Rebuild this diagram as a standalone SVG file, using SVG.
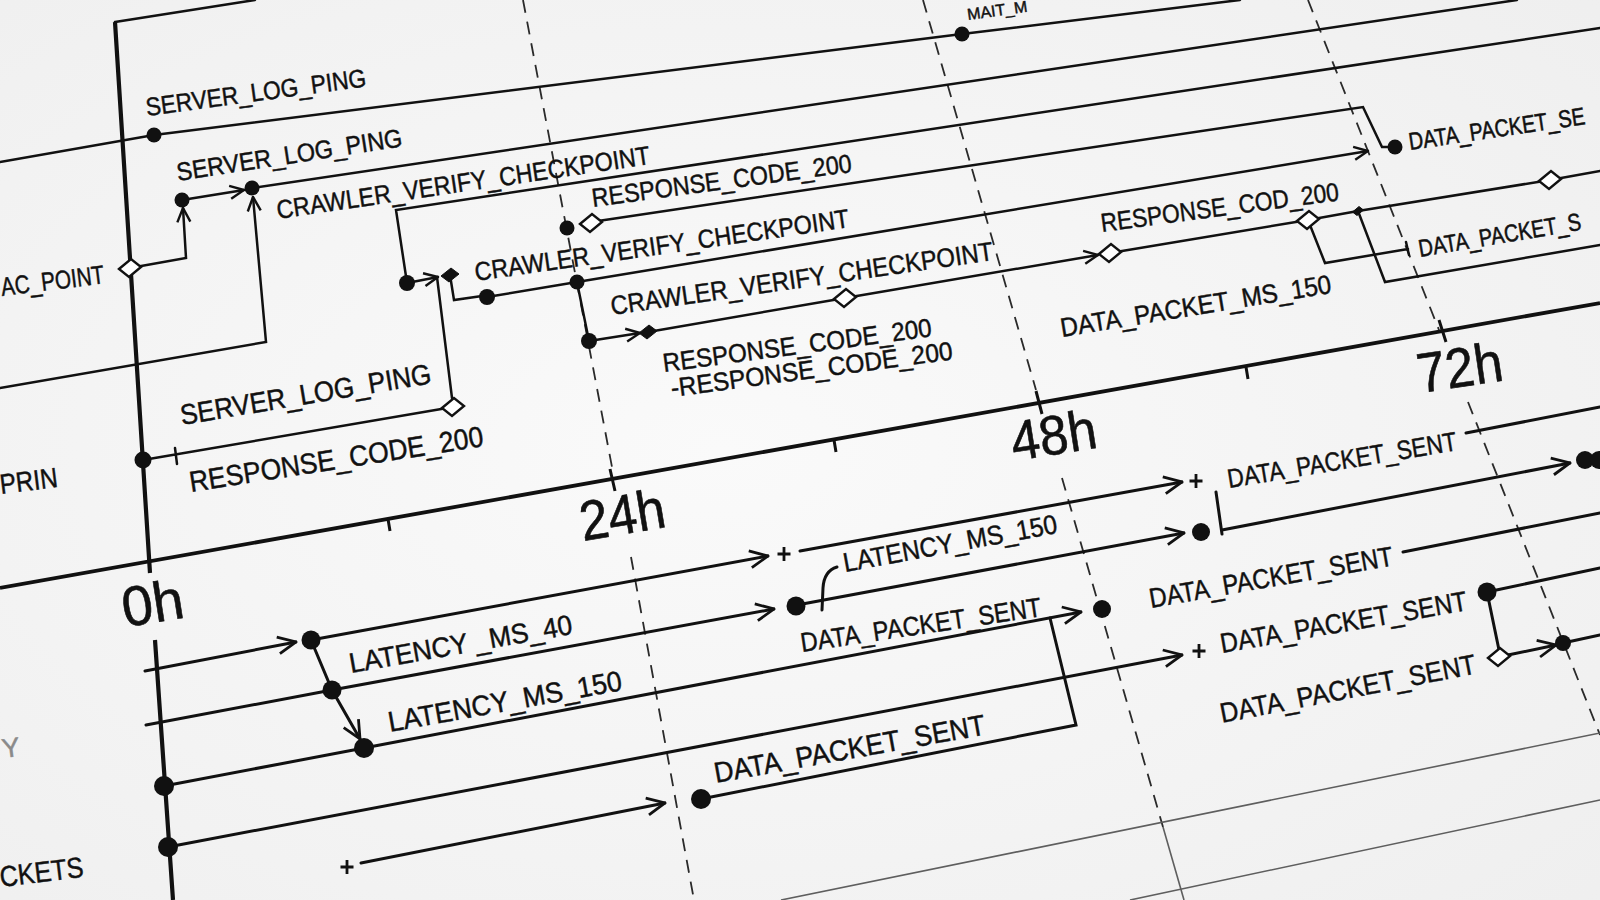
<svg xmlns="http://www.w3.org/2000/svg" xmlns:xlink="http://www.w3.org/1999/xlink" width="1600" height="900" viewBox="0 0 1600 900">
<defs>
<radialGradient id="bg" cx="0.45" cy="0.5" r="0.8">
<stop offset="0" stop-color="#fafafa"/>
<stop offset="1" stop-color="#eeeeee"/>
</radialGradient>
<marker id="arr" viewBox="0 0 16 16" refX="15" refY="8" markerWidth="16" markerHeight="16" markerUnits="userSpaceOnUse" orient="auto">
<path d="M1,1.5 L15,8 L1,14.5" fill="none" stroke="#111" stroke-width="2.4"/>
</marker>
<marker id="arrL" viewBox="0 0 20 20" refX="19" refY="10" markerWidth="20" markerHeight="20" markerUnits="userSpaceOnUse" orient="auto">
<path d="M1,1.5 L19,10 L1,18.5" fill="none" stroke="#111" stroke-width="2.8"/>
</marker>
<path id="dia" d="M-11,1 L1,-9 L11,-1 L-1,9Z"/>
<path id="diaS" d="M-9,1 L1,-7 L9,-1 L-1,7Z"/>
<path id="diaXS" d="M-5.5,1 L1,-4.5 L5.5,-1 L-1,4.5Z"/>
<path id="plus" d="M-6.5,0 H6.5 M0,-7 V7"/>
</defs>
<style>
.ln{fill:none;stroke:#111;stroke-width:2.5;stroke-linecap:round;stroke-linejoin:miter}
.lb{stroke-width:3}
.thick{fill:none;stroke:#111;stroke-width:4.2}
.axis{fill:none;stroke:#111;stroke-width:3.8}
.tk{fill:none;stroke:#111;stroke-width:3}
.dash{fill:none;stroke:#2a2a2a;stroke-width:1.8;stroke-dasharray:13 9}
.thin{fill:none;stroke:#5e5e5e;stroke-width:1.6}
.dot{fill:#111}
.od{fill:#fff;stroke:#111;stroke-width:2.4}
.fd{fill:#111;stroke:#111;stroke-width:1}
.pl{fill:none;stroke:#111;stroke-width:2.8}
.t{font-family:"Liberation Sans",Arial,sans-serif;fill:#111;stroke:#111;stroke-width:0.45}
.big{font-size:56px;stroke-width:0.6}
.gray{fill:#8a8a8a;stroke:#8a8a8a}
</style>
<rect width="1600" height="900" fill="url(#bg)"/>

<g id="grid">
<path class="dash" d="M523,0 L612,467 M631,557 L694,900"/>
<path class="dash" d="M923,0 L1036,390 M1062,478 L1163,827"/>
<path class="thin" d="M1163,827 L1184,900"/>
<path class="dash" d="M1308,0 L1439,330 M1468,402 L1600,735"/>
<path class="thin" d="M781,900 L1600,733 M1130,900 L1600,800"/>
</g>

<g id="axis">
<path class="axis" d="M0,588 L1600,303"/>
<path class="tk" d="M610,469 L615,491 M1036,391 L1042,414 M1439,320 L1446,342 M388,519 L390,531 M834,440 L836,452 M1246,367 L1248,379"/>
<path class="thick" d="M115,22 L150,573 M155,640 L173,900"/>
<path class="ln" d="M115,22 L255,0"/>
<text class="t big" x="125" y="627" transform="rotate(-9 125 627)" textLength="62" lengthAdjust="spacingAndGlyphs">0h</text>
<text class="t big" x="583" y="541" transform="rotate(-9.5 583 541)" textLength="86" lengthAdjust="spacingAndGlyphs">24h</text>
<text class="t big" x="1014" y="461" transform="rotate(-9 1014 461)" textLength="86" lengthAdjust="spacingAndGlyphs">48h</text>
<text class="t big" x="1420" y="393" transform="rotate(-8.5 1420 393)" textLength="86" lengthAdjust="spacingAndGlyphs">72h</text>
</g>

<g id="connectors">
<path class="ln" d="M0,162 L154,135 L962,34 L1240,0"/>
<path class="ln" d="M252,188 L1517,0"/>
<path class="ln" d="M130,268 L186,258 L183,208" marker-end="url(#arr)"/>
<path class="ln" d="M182,200 L244,190" marker-end="url(#arr)"/>
<path class="ln" d="M0,388 L266,342 L253,197" marker-end="url(#arr)"/>
<path class="ln" d="M407,283 L396,210 L1600,28"/>
<path class="ln" d="M407,283 L438,277" marker-end="url(#arr)"/>
<path class="ln" d="M437,277 L452,398"/>
<path class="ln" d="M450,275 L454,300 L482,296"/>
<path class="ln" d="M598,221 L1363,107 L1382,147 L1390,147"/>
<path class="ln" d="M487,297 L577,282 L1368,151" marker-end="url(#arr)"/>
<path class="ln" d="M577,282 L589,341"/>
<path class="ln" d="M589,341 L640,333" marker-end="url(#arr)"/>
<path class="ln" d="M648,332 L845,298 L1098,255" marker-end="url(#arr)"/>
<path class="ln" d="M1110,253 L1308,220 L1358,211 L1550,180 L1600,171"/>
<path class="ln" d="M1308,220 L1325,263 L1408,249 M1406,242 L1409,255"/>
<path class="ln" d="M1358,211 L1385,282 L1600,245"/>
<path class="ln" d="M453,407 L143,460 M175,448 L177,464"/>

<path class="ln lb" d="M145,671 L296,642" marker-end="url(#arrL)"/>
<path class="ln lb" d="M311,640 L332,690 L360,739" marker-end="url(#arrL)"/>
<path class="ln lb" d="M146,725 L332,690"/>
<path class="ln lb" d="M311,640 L768,556" marker-end="url(#arrL)"/>
<path class="ln lb" d="M332,690 L774,609" marker-end="url(#arrL)"/>
<path class="ln lb" d="M164,786 L364,748 L1081,612" marker-end="url(#arrL)"/>
<path class="ln lb" d="M1050,618 L1076,725 L701,799"/>
<path class="ln lb" d="M168,847 L1182,655" marker-end="url(#arrL)"/>
<path class="ln lb" d="M361,863 L665,803" marker-end="url(#arrL)"/>
<path class="ln lb" d="M800,551 L1182,482" marker-end="url(#arrL)"/>
<path class="ln lb" d="M797,605 L1184,533" marker-end="url(#arrL)"/>
<path class="ln lb" d="M822,610 L823,588 Q824,571 837,567"/>
<path class="ln lb" d="M1466,433 L1600,407"/>
<path class="ln lb" d="M1222,530 L1570,463" marker-end="url(#arrL)"/>
<path class="ln lb" d="M1216,492 L1222,534"/>
<path class="ln lb" d="M1403,552 L1600,513"/>
<path class="ln lb" d="M1487,592 L1600,568 M1487,592 L1499,650"/>
<path class="ln lb" d="M1508,655 L1556,645" marker-end="url(#arrL)"/>
<path class="ln lb" d="M1563,643 L1600,635"/>
</g>

<g id="n-server-log-ping-1">
<circle class="dot" cx="154" cy="135" r="7.5"/>
<text class="t" x="147" y="116" font-size="25.5" transform="rotate(-7.7 147 116)" textLength="222" lengthAdjust="spacingAndGlyphs">SERVER_LOG_PING</text>
</g>
<g id="n-mait">
<circle class="dot" cx="962" cy="34" r="7.5"/>
<text class="t" x="968" y="20" font-size="16" transform="rotate(-8 968 20)">MAIT_M</text>
</g>
<g id="n-server-log-ping-2">
<circle class="dot" cx="252" cy="188" r="7.5"/>
<text class="t" x="178" y="181" font-size="25.5" transform="rotate(-8.8 178 181)" textLength="228" lengthAdjust="spacingAndGlyphs">SERVER_LOG_PING</text>
</g>
<g id="n-ac-point">
<circle class="dot" cx="182" cy="200" r="7.5"/>
<use xlink:href="#dia" href="#dia" x="130" y="268" class="od"/>
<text class="t" x="2" y="296" font-size="26" transform="rotate(-7 2 296)" textLength="104" lengthAdjust="spacingAndGlyphs">AC_POINT</text>
</g>
<g id="n-crawler-1">
<circle class="dot" cx="407" cy="283" r="8"/>
<use xlink:href="#diaS" href="#diaS" x="450" y="275" class="fd"/>
<text class="t" x="278" y="219" font-size="26" transform="rotate(-8.4 278 219)" textLength="377" lengthAdjust="spacingAndGlyphs">CRAWLER_VERIFY_CHECKPOINT</text>
</g>
<g id="n-response-1">
<circle class="dot" cx="567" cy="228" r="7.5"/>
<use xlink:href="#dia" href="#dia" x="591" y="223" class="od"/>
<text class="t" x="593" y="207" font-size="26" transform="rotate(-7.7 593 207)" textLength="262" lengthAdjust="spacingAndGlyphs">RESPONSE_CODE_200</text>
</g>
<g id="n-crawler-2">
<circle class="dot" cx="487" cy="297" r="8"/>
<circle class="dot" cx="577" cy="282" r="7.5"/>
<text class="t" x="476" y="281" font-size="26" transform="rotate(-8.2 476 281)" textLength="378" lengthAdjust="spacingAndGlyphs">CRAWLER_VERIFY_CHECKPOINT</text>
</g>
<g id="n-crawler-3">
<circle class="dot" cx="589" cy="341" r="8"/>
<use xlink:href="#diaS" href="#diaS" x="648" y="332" class="fd"/>
<use xlink:href="#dia" href="#dia" x="845" y="298" class="od"/>
<text class="t" x="612" y="315" font-size="26.5" transform="rotate(-8.2 612 315)" textLength="386" lengthAdjust="spacingAndGlyphs">CRAWLER_VERIFY_CHECKPOINT</text>
</g>
<g id="n-response-pair">
<text class="t" x="664" y="372" font-size="26" transform="rotate(-7.6 664 372)" textLength="271" lengthAdjust="spacingAndGlyphs">RESPONSE_CODE_200</text>
<text class="t" x="672" y="397" font-size="26" transform="rotate(-7.6 672 397)" textLength="284" lengthAdjust="spacingAndGlyphs">-RESPONSE_CODE_200</text>
</g>
<g id="n-response-cod">
<use xlink:href="#dia" href="#dia" x="1110" y="253" class="od"/>
<use xlink:href="#dia" href="#dia" x="1308" y="220" class="od"/>
<use xlink:href="#diaXS" href="#diaXS" x="1358" y="211" class="fd"/>
<use xlink:href="#dia" href="#dia" x="1550" y="180" class="od"/>
<text class="t" x="1102" y="232" font-size="26" transform="rotate(-7.6 1102 232)" textLength="240" lengthAdjust="spacingAndGlyphs">RESPONSE_COD_200</text>
</g>
<g id="n-data-ms-150">
<text class="t" x="1062" y="337" font-size="26.5" transform="rotate(-9.3 1062 337)" textLength="274" lengthAdjust="spacingAndGlyphs">DATA_PACKET_MS_150</text>
</g>
<g id="n-data-se">
<circle class="dot" cx="1395" cy="147" r="7.5"/>
<text class="t" x="0" y="0" font-size="20" transform="translate(1410 150) rotate(-8.4) scale(1 1.22)">DATA_PACKET_SE</text>
</g>
<g id="n-data-s">
<text class="t" x="0" y="0" font-size="20" transform="translate(1420 257) rotate(-9.6) scale(1 1.22)">DATA_PACKET_S</text>
</g>
<g id="n-server-log-ping-3">
<circle class="dot" cx="143" cy="460" r="8.5"/>
<use xlink:href="#dia" href="#dia" x="453" y="407" class="od"/>
<text class="t" x="182" y="425" font-size="28.5" transform="rotate(-9.5 182 425)" textLength="254" lengthAdjust="spacingAndGlyphs">SERVER_LOG_PING</text>
<text class="t" x="191" y="492" font-size="29" transform="rotate(-8.9 191 492)" textLength="297" lengthAdjust="spacingAndGlyphs">RESPONSE_CODE_200</text>
</g>
<g id="n-prin">
<text class="t" x="1" y="494" font-size="28" transform="rotate(-7 1 494)" textLength="58" lengthAdjust="spacingAndGlyphs">PRIN</text>
</g>
<g id="n-y">
<text class="t gray" x="3" y="758" font-size="27" transform="rotate(-7 3 758)">Y</text>
</g>
<g id="n-ckets">
<text class="t" x="1" y="887" font-size="29" transform="rotate(-7 1 887)" textLength="84" lengthAdjust="spacingAndGlyphs">CKETS</text>
</g>

<g id="n-latency-40">
<circle class="dot" cx="311" cy="640" r="9.5"/>
<text class="t" x="351" y="673" font-size="28" transform="rotate(-10 351 673)" textLength="226" lengthAdjust="spacingAndGlyphs">LATENCY _MS_40</text>
</g>
<g id="n-latency-150-a">
<circle class="dot" cx="332" cy="690" r="9.5"/>
<circle class="dot" cx="364" cy="748" r="10"/>
<text class="t" x="390" y="732" font-size="28.5" transform="rotate(-10.2 390 732)" textLength="237" lengthAdjust="spacingAndGlyphs">LATENCY_MS_150</text>
</g>
<g id="n-left-dots">
<circle class="dot" cx="164" cy="786" r="10"/>
<circle class="dot" cx="168" cy="847" r="10"/>
<use xlink:href="#plus" href="#plus" x="347" y="867" class="pl"/>
</g>
<g id="n-data-lower">
<circle class="dot" cx="701" cy="799" r="10"/>
<text class="t" x="716" y="783" font-size="29" transform="rotate(-10.2 716 783)" textLength="275" lengthAdjust="spacingAndGlyphs">DATA_PACKET_SENT</text>
</g>
<g id="n-data-mid">
<text class="t" x="802" y="652" font-size="27" transform="rotate(-8.5 802 652)" textLength="243" lengthAdjust="spacingAndGlyphs">DATA_PACKET_SENT</text>
</g>
<g id="n-latency-150-b">
<use xlink:href="#plus" href="#plus" x="784" y="554" class="pl"/>
<circle class="dot" cx="796" cy="606" r="9.5"/>
<text class="t" x="845" y="572" font-size="27" transform="rotate(-10.4 845 572)" textLength="217" lengthAdjust="spacingAndGlyphs">LATENCY_MS_150</text>
</g>
<g id="n-data-r1">
<use xlink:href="#plus" href="#plus" x="1196" y="481" class="pl"/>
<text class="t" x="1229" y="488" font-size="26.5" transform="rotate(-9.4 1229 488)" textLength="232" lengthAdjust="spacingAndGlyphs">DATA_PACKET_SENT</text>
</g>
<g id="n-data-r2">
<circle class="dot" cx="1201" cy="532" r="9"/>
<circle class="dot" cx="1585" cy="460" r="9"/>
<circle class="dot" cx="1599" cy="460" r="9"/>
</g>
<g id="n-data-r3">
<circle class="dot" cx="1102" cy="609" r="9"/>
<text class="t" x="1151" y="608" font-size="27.5" transform="rotate(-10 1151 608)" textLength="247" lengthAdjust="spacingAndGlyphs">DATA_PACKET_SENT</text>
</g>
<g id="n-data-r4">
<use xlink:href="#plus" href="#plus" x="1199" y="651" class="pl"/>
<circle class="dot" cx="1487" cy="592" r="9.5"/>
<text class="t" x="1222" y="653" font-size="27.5" transform="rotate(-9.9 1222 653)" textLength="250" lengthAdjust="spacingAndGlyphs">DATA_PACKET_SENT</text>
</g>
<g id="n-data-r5">
<use xlink:href="#dia" href="#dia" x="1499" y="657" class="od"/>
<circle class="dot" cx="1563" cy="643" r="8"/>
<text class="t" x="1222" y="723" font-size="28" transform="rotate(-11 1222 723)" textLength="260" lengthAdjust="spacingAndGlyphs">DATA_PACKET_SENT</text>
</g>
</svg>
